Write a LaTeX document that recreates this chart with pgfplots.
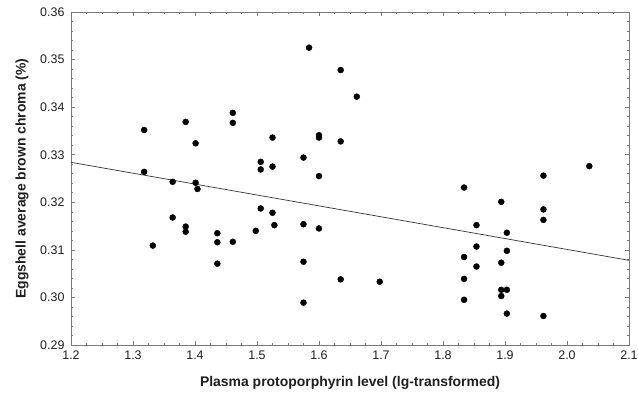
\documentclass[border=0pt]{standalone}
\usepackage{pgfplots}
\pgfplotsset{compat=1.18}
\usepackage{fontspec}
\setmainfont{Liberation Sans}
\definecolor{axgray}{RGB}{120,120,120}
\definecolor{txt}{RGB}{30,30,30}
\begin{document}
\begin{tikzpicture}
\path[use as bounding box] (-71bp,-50bp) rectangle (567bp,345bp);
\begin{axis}[
  at={(0,0)}, anchor=south west,
  scale only axis, width=558bp, height=333bp,
  xmin=1.2, xmax=2.1, ymin=0.29, ymax=0.36,
  xtick={1.2,1.3,...,2.1}, ytick={0.29,0.30,...,0.36},
  minor x tick num=3, minor y tick num=4,
  tick align=inside, major tick length=4bp, minor tick length=2bp,
  axis line style={axgray, line width=0.8pt},
  every tick/.style={axgray, line width=0.6pt},
  /pgf/number format/assume math mode=true,
  xticklabel style={/pgf/number format/.cd, fixed, fixed zerofill, precision=1},
  yticklabel style={/pgf/number format/.cd, fixed, fixed zerofill, precision=2},
  tick label style={font=\fontsize{12.5}{14}\selectfont, text=txt},
  xticklabel shift=2bp, yticklabel shift=3bp,
  xlabel={Plasma protoporphyrin level (lg-transformed)},
  ylabel={Eggshell average brown chroma (\%)},
  label style={font=\fontsize{14}{16}\selectfont\bfseries, text=txt},
  xlabel style={at={(axis description cs:0.5,0)}, anchor=center, yshift=-38bp},
  ylabel style={at={(axis description cs:0,0.5)}, anchor=center, yshift=49bp},
  clip=false,
]
\addplot[only marks, mark=*, mark size=3bp, black] table {
1.318 0.3352
1.385 0.3369
1.401 0.3324
1.461 0.3388
1.461 0.3367
1.525 0.3336
1.506 0.3285
1.506 0.3269
1.525 0.3275
1.584 0.3525
1.575 0.3294
1.600 0.3341
1.600 0.3336
1.600 0.3255
1.635 0.3478
1.635 0.3328
1.661 0.3422
1.318 0.3264
1.364 0.3243
1.401 0.3241
1.404 0.3228
1.834 0.3231
1.962 0.3256
2.036 0.3276
1.894 0.3201
1.364 0.3168
1.385 0.3149
1.385 0.3138
1.332 0.3109
1.436 0.3135
1.436 0.3116
1.436 0.3071
1.461 0.3117
1.498 0.3140
1.506 0.3187
1.525 0.3178
1.528 0.3152
1.575 0.3154
1.600 0.3145
1.575 0.3075
1.575 0.2989
1.635 0.3038
1.698 0.3033
1.962 0.3185
1.962 0.3163
1.854 0.3152
1.903 0.3136
1.854 0.3107
1.903 0.3098
1.834 0.3085
1.894 0.3073
1.854 0.3065
1.834 0.3039
1.894 0.3016
1.903 0.3016
1.894 0.3003
1.834 0.2995
1.903 0.2966
1.962 0.2961
};
\addplot[color=black!80, line width=0.7pt] coordinates {(1.2,0.3284) (2.1,0.3078)};
\end{axis}
\end{tikzpicture}
\end{document}
